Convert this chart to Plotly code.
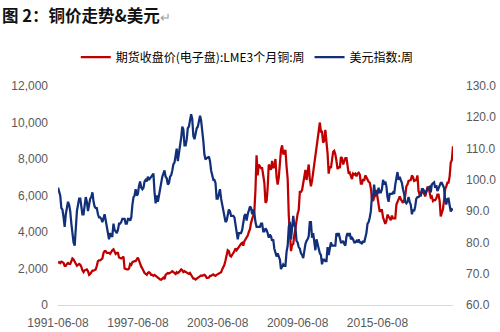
import pandas as pd
import plotly.graph_objects as go

# Monthly samples, starting 1991-06-08
start_date = "1991-06-08"
end_date = "2021-02-08"

copper = [
    # 1991 Jun-Dec
    2300, 2350, 2300, 2380, 2350, 2300, 2150,
    # 1992
    2150, 2250, 2300, 2250, 2250, 2400, 2550, 2500, 2350, 2250, 2150, 2200,
    # 1993
    2250, 2200, 2100, 1900, 1800, 1900, 1950, 1950, 1850, 1650, 1700, 1800,
    # 1994
    1880, 1880, 1920, 1950, 2150, 2400, 2450, 2450, 2500, 2550, 2850, 2950,
    # 1995
    2950, 2850, 2850, 2850, 2800, 2950, 3000, 3050, 2900, 2800, 2850, 2850,
    # 1996
    2600, 2550, 2550, 2600, 2650, 2000, 1950, 1950, 1950, 2000, 2250, 2200,
    # 1997
    2350, 2400, 2400, 2400, 2550, 2600, 2450, 2250, 2100, 2000, 1850, 1750,
    # 1998
    1700, 1650, 1750, 1800, 1750, 1650, 1650, 1600, 1650, 1600, 1550, 1450,
    # 1999
    1420, 1400, 1380, 1450, 1500, 1420, 1650, 1700, 1750, 1730, 1750, 1800,
    # 2000
    1850, 1800, 1750, 1700, 1800, 1750, 1800, 1850, 1950, 1900, 1800, 1850,
    # 2001
    1800, 1750, 1750, 1700, 1750, 1600, 1550, 1450, 1450, 1400, 1450, 1500,
    # 2002
    1520, 1580, 1620, 1600, 1610, 1650, 1600, 1480, 1480, 1500, 1600, 1600,
    # 2003
    1650, 1680, 1620, 1600, 1650, 1680, 1720, 1770, 1800, 1950, 2050, 2200,
    # 2004
    2450, 2750, 3000, 2950, 2700, 2650, 2800, 2850, 2950, 3100, 3000, 3100,
    # 2005
    3150, 3250, 3350, 3400, 3250, 3500, 3600, 3700, 3800, 4000, 4150, 4500,
    # 2006
    4700, 4900, 5100, 6300, 8200, 7100, 7700, 7600, 7500, 7500, 7000, 6700,
    # 2007
    5600, 5700, 6400, 7700, 7600, 7400, 7900, 7500, 7600, 8000, 7000, 6600,
    # 2008
    7000, 8000, 8500, 8750, 8300, 8300, 8500, 7600, 6900, 4900, 3700, 2950,
    # 2009
    3300, 3350, 3800, 4400, 4600, 5000, 5200, 6200, 6200, 6300, 6700, 7000,
    # 2010
    7400, 6850, 7450, 7700, 6900, 6500, 6800, 7300, 7700, 8300, 8500, 9100,
    # 2011
    9600, 10000, 9500, 9500, 8900, 9000, 9600, 9000, 8300, 7200, 7600, 7500,
    # 2012
    8000, 8400, 8450, 8250, 7900, 7450, 7600, 7500, 8100, 8050, 7700, 7950,
    # 2013
    8050, 8050, 7650, 7200, 7250, 7000, 6900, 7200, 7150, 7200, 7050, 7200,
    # 2014
    7250, 7150, 6650, 6650, 6900, 6800, 7100, 7000, 6850, 6750, 6700, 6400,
    # 2015
    5800, 5700, 5900, 6000, 6300, 5800, 5450, 5100, 5200, 5200, 4800, 4600,
    # 2016
    4450, 4600, 4950, 4850, 4700, 4650, 4900, 4750, 4750, 4750, 5500, 5650,
    # 2017
    5750, 5950, 5800, 5700, 5600, 5750, 5990, 6500, 6600, 6800, 6850, 6850,
    # 2018
    7100, 7000, 6800, 6850, 6850, 7100, 6250, 6050, 6050, 6250, 6200, 6100,
    # 2019
    5950, 6300, 6450, 6450, 6050, 5900, 5950, 5700, 5750, 5750, 5850, 6050,
    # 2020
    6050, 5700, 4850, 5100, 5250, 5750, 6350, 6500, 6700, 6700, 7050, 7800,
    # 2021 Jan-Feb
    7950, 8700,
]

dollar_index = [
    # 1991 Jun-Dec
    97.5, 96, 95, 91, 90.5, 88, 85,
    # 1992
    89, 92, 93, 92, 90, 86, 82, 80, 79, 85, 90, 92,
    # 1993
    94, 94, 92, 89, 89, 92, 94.5, 93, 90, 92, 94, 94.5,
    # 1994
    96, 93, 91.5, 91, 91, 89, 88, 88, 87.5, 86.5, 88, 89,
    # 1995
    87, 85, 82, 81, 83, 82, 82, 86, 84, 83.5, 83, 84,
    # 1996
    86, 86, 86.5, 87.5, 87.5, 87.5, 86, 86, 87.5, 87.5, 87, 88,
    # 1997
    92, 94.5, 95, 97, 95, 95.5, 98, 99.5, 97.5, 97, 97.5, 99.5,
    # 1998
    100, 99.5, 101, 100, 100.5, 101, 101.5, 102, 96, 92.5, 95, 93,
    # 1999
    95, 97.5, 99.5, 101, 102, 103, 101, 100.5, 98.5, 99, 101, 101.5,
    # 2000
    103, 105, 105.5, 108.5, 110, 106, 108, 111, 113.5, 117, 116, 111,
    # 2001
    111, 113, 116.5, 117, 119, 121, 119.5, 114, 113, 115, 116.5, 117,
    # 2002
    119.5, 120.5, 119, 116, 112.5, 108, 106.5, 107, 107, 107.5, 106, 103,
    # 2003
    101, 100, 100, 99, 94, 94, 95.5, 97, 94, 92, 91, 88,
    # 2004
    86.5, 87, 88.5, 90.5, 90, 88.5, 88.5, 88.5, 88, 86, 83, 81,
    # 2005
    83, 83, 83, 84, 86.5, 88.5, 89, 87, 89, 90, 91.5, 91,
    # 2006
    89, 90.5, 89.5, 86.5, 85, 85, 85, 85, 86, 86, 83.5, 83.5,
    # 2007
    84.5, 84, 83, 81.5, 82.5, 82, 80.5, 81, 78, 77, 75.5, 76.5,
    # 2008
    75, 74.5, 71.5, 72.5, 73, 72.5, 72.5, 77, 79, 85, 86.5, 81,
    # 2009
    86, 88.5, 85.5, 85, 80.5, 80, 78.5, 78, 76.5, 76, 75, 77.5,
    # 2010
    79.5, 80.5, 81, 82, 86.5, 86.5, 81.5, 83, 79, 77.5, 81, 79,
    # 2011
    78, 76.5, 76, 73, 74.5, 74.5, 74, 74, 78.5, 76, 78.5, 80,
    # 2012
    79, 79, 79, 79, 83, 82, 83, 81.5, 80, 80, 80.5, 79.5,
    # 2013
    79, 82, 83, 82, 83, 81, 81.5, 81, 80, 80, 80.5, 80,
    # 2014
    81, 80, 80, 79.5, 80.5, 80, 81.5, 83, 86, 86.5, 88, 90,
    # 2015
    95, 95, 98.5, 95, 96.5, 95.5, 97.5, 96, 96, 97, 100, 98.5,
    # 2016
    99.5, 98, 94.5, 93, 95.5, 95.5, 95.5, 96, 95.5, 98.5, 101.5, 102.5,
    # 2017
    100, 101, 100, 99, 97, 95.5, 93, 92.5, 93, 94.5, 93, 92,
    # 2018
    89, 90.5, 90, 91.5, 94, 94.5, 94.5, 95, 95, 97, 97, 96.5,
    # 2019
    95.5, 96.5, 97, 97.5, 97.8, 96, 98.5, 98.9, 99.2, 97.5, 98.3, 96.4,
    # 2020
    97.4, 98.1, 99, 99, 98.3, 97.4, 93.4, 92.1, 93.9, 94, 91.9, 89.9,
    # 2021 Jan-Feb
    90.6, 90.3,
]

tick_labels = ["1991-06-08", "1997-06-08", "2003-06-08", "2009-06-08", "2015-06-08"]

copper_name = "期货收盘价(电子盘):LME3个月铜:周"
dollar_name = "美元指数:周"
title_text = "图 2：铜价走势&美元"

dates = pd.date_range(start=start_date, periods=len(copper), freq=pd.DateOffset(months=1))

fig = go.Figure()
fig.add_trace(go.Scatter(
    x=dates, y=copper, name=copper_name, mode="lines",
    line=dict(color="#C00000", width=2.25), yaxis="y"))
fig.add_trace(go.Scatter(
    x=dates, y=dollar_index, name=dollar_name, mode="lines",
    line=dict(color="#12307A", width=2.25), yaxis="y2"))

tick_font = dict(family="Liberation Sans, Arial, sans-serif", size=12, color="#595959")

fig.update_layout(
    width=500, height=332,
    margin=dict(l=58, r=47, t=86, b=27, autoexpand=False),
    paper_bgcolor="white", plot_bgcolor="white",
    showlegend=True,
    legend=dict(
        orientation="h", x=0.045, y=1.132, xanchor="left", yanchor="middle",
        font=dict(family="Noto Sans CJK SC", size=12, color="#000000"),
        bgcolor="rgba(0,0,0,0)", itemwidth=30, tracegroupgap=0,
    ),
    xaxis=dict(
        type="date", range=[start_date, end_date],
        tickvals=tick_labels, ticktext=tick_labels,
        showgrid=False, zeroline=False, automargin=False,
        showline=True, linecolor="#D9D9D9", linewidth=1,
        ticks="", tickfont=tick_font, ticklabelstandoff=7,
    ),
    yaxis=dict(
        range=[0, 12000], dtick=2000, tickformat=",",
        showgrid=False, zeroline=False, showline=False, ticks="",
        automargin=False,
        tickfont=tick_font, ticklabelstandoff=9,
    ),
    yaxis2=dict(
        range=[60, 130], dtick=10, tickformat=".1f",
        overlaying="y", side="right", automargin=False,
        showgrid=False, zeroline=False, showline=False, ticks="",
        tickfont=tick_font, ticklabelstandoff=12,
    ),
)

fig.add_annotation(
    xref="paper", yref="paper", x=-58/395, y=(305-15)/219,
    xanchor="left", yanchor="middle", showarrow=False,
    text="<b>" + title_text + "</b><span style='color:#A0A0A0;font-size:13px'>↵</span>",
    font=dict(family="Noto Sans CJK SC", size=16.5, color="#111111"),
)

fig.write_html("out.html")
